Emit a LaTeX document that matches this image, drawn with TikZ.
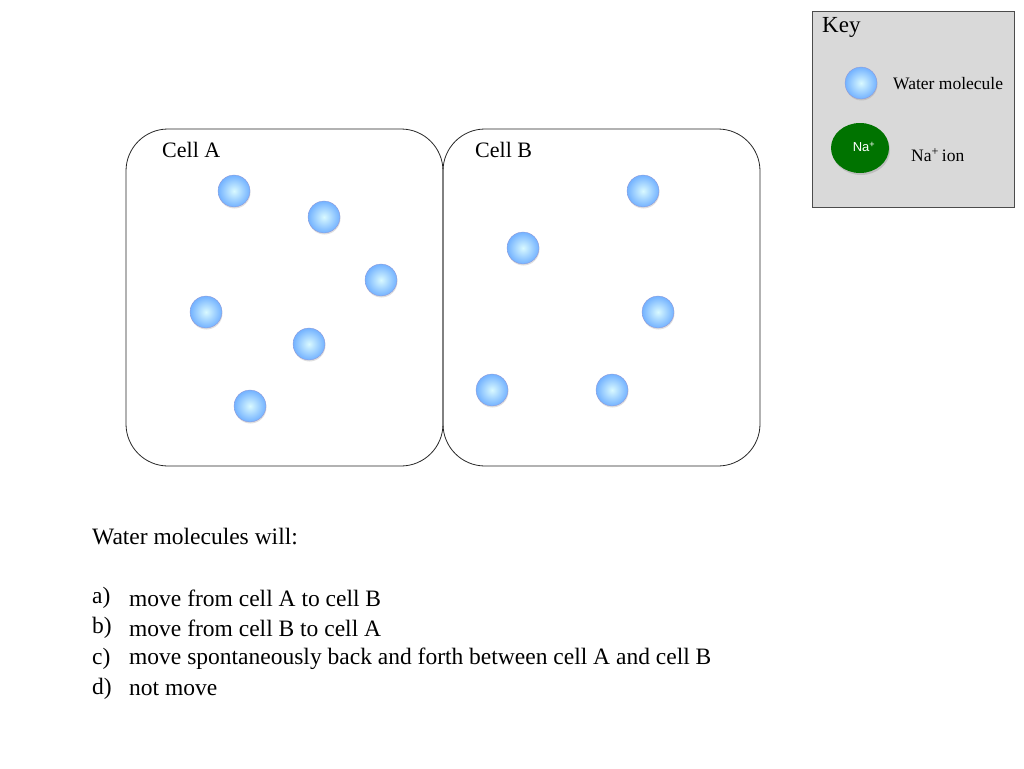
\documentclass[tikz,border=0pt]{standalone}
\usepackage{fontspec}
\setmainfont{Liberation Serif}
\newfontfamily\sansf{Liberation Sans}
\usetikzlibrary{shadows,shapes.geometric}
\begin{document}
\begin{tikzpicture}[x=1pt,y=-1pt,
  cellbox/.style={draw=black!85,line width=0.8pt,rounded corners=42pt},
  ball/.style={circle,minimum size=32pt,inner sep=0pt,draw=blue!40!gray!60,line width=0.3pt,shading=radial,inner color=blue!15!cyan!15!white,outer color=blue!55!cyan!55!white,drop shadow={shadow xshift=0.5pt,shadow yshift=-1.5pt,opacity=0.25}},
  txt/.style={anchor=west,inner sep=0pt,font=\fontsize{23.5}{28}\selectfont}]
\useasboundingbox (0,0) rectangle (1024,768);
\draw[cellbox] (126,129) rectangle (443,466);
\draw[cellbox] (443,129) rectangle (760,466);
\node[anchor=west,inner sep=0pt,font=\fontsize{22}{26}\selectfont] (la) at (162,150) {Cell A};
\node[anchor=west,inner sep=0pt,font=\fontsize{22}{26}\selectfont] (lb) at (475,150) {Cell B};
\foreach \n/\p in {a1/{(234,191)},a2/{(324,217)},a3/{(381,280)},a4/{(206,312)},a5/{(309,344)},a6/{(250,406)},b1/{(643,191)},b2/{(523,248)},b3/{(658,312)},b4/{(492,390)},b5/{(612,390)}}
  \node[ball] (\n) at \p {};
% key
\node[draw=black!70,fill=black!15,minimum width=202pt,minimum height=196pt,inner sep=0pt,drop shadow={shadow xshift=1pt,shadow yshift=-1pt,opacity=0.4}] (key) at (913,109) {};
\node[anchor=west,inner sep=0pt,font=\fontsize{23}{27}\selectfont] (keyt) at (822,27) {Key};
\node[ball] (kw) at (861,83) {};
\node[anchor=west,inner sep=0pt,font=\fontsize{17.5}{20}\selectfont] (kwt) at (893,84) {Water molecule};
\node[ellipse,fill=green!45!black,minimum width=58pt,minimum height=50pt,inner sep=0pt,drop shadow={shadow xshift=1pt,shadow yshift=-2pt,opacity=0.3}] (kn) at (860,148) {};
\node[font=\sansf\fontsize{13}{14}\selectfont,text=white,inner sep=0pt] (knl) at (864,147) {Na\textsuperscript{+}};
\node[anchor=west,inner sep=0pt,font=\fontsize{17.5}{20}\selectfont] (knt) at (911,155) {Na\textsuperscript{+}\,ion};
% question
\node[txt] (q) at (92,537) {Water molecules will:};
\foreach \l/\t/\y in {a)/move from cell A to cell B/598,b)/move from cell B to cell A/628,c)/move spontaneously back and forth between cell A and cell B/659,d)/not move/689}{
  \node[txt] at (92,\y) {\l};
  \node[txt] at (129,\y) {\t};
}
\end{tikzpicture}
\end{document}
